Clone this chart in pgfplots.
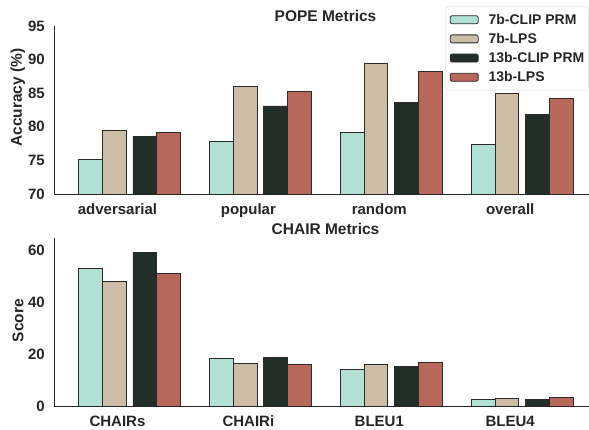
\documentclass[border=0pt]{standalone}
\usepackage{fontspec}
\setmainfont{Liberation Sans}
\usepackage{pgfplots}
\pgfplotsset{compat=1.18}
\definecolor{cA}{HTML}{B3E0D4}
\definecolor{cB}{HTML}{CDBDA6}
\definecolor{cC}{HTML}{222F28}
\definecolor{cD}{HTML}{B8675B}
\definecolor{txt}{HTML}{262626}
\definecolor{edge}{HTML}{2A2A2A}
\pgfplotsset{
  common/.style={
    scale only axis, width=535pt, anchor=south west,
    xmin=-0.577, xmax=3.51,
    axis x line*=bottom, axis y line*=left,
    axis line style={txt, line width=0.9pt, -},
    major tick length=0pt,
    ybar, bar width=0.18,
    xtick={-0.092,0.908,1.908,2.908},
    tick label style={font=\fontsize{15}{18}\selectfont\bfseries, text=txt},
    /pgf/number format/assume math mode=true,
    xticklabel style={anchor=base, yshift=-20.5pt},
    yticklabel style={anchor=east, inner sep=0pt, xshift=-9pt},
    ylabel style={font=\fontsize{15.5}{18}\selectfont\bfseries, text=txt, anchor=center, rotate=0},
    title style={font=\fontsize{15.5}{18}\selectfont\bfseries, text=txt, anchor=base},
    every axis plot/.append style={draw=edge, line width=0.8pt},
    legend image code/.code={\draw[#1] (0pt,-4pt) rectangle (28pt,4pt);},
  }
}
\begin{document}
\begin{tikzpicture}
\useasboundingbox (0,0) rectangle (589pt,430pt);
\begin{axis}[common, at={(54pt,236pt)}, height=168pt,
  ymin=70, ymax=95, ytick={70,75,80,85,90,95},
  xticklabels={adversarial,popular,random,overall},
  ylabel={Accuracy (\%)},
  ylabel style={at={(axis description cs:-0.0673,0.574)}},
  title={POPE Metrics},
  title style={at={(axis description cs:0.5075,1)}, yshift=-2pt},
  legend cell align=left,
  legend style={at={(axis description cs:1,1)}, anchor=north east, yshift=19.3pt, xshift=-0.5pt,
    draw=black!15, rounded corners=2pt, fill=white,
    font=\fontsize{14}{16}\selectfont\bfseries, text=txt,
    inner xsep=4pt, inner ysep=6.3pt, row sep=6.2pt,
    nodes={inner sep=0pt, text height=11pt, text depth=2pt},
    /tikz/every odd column/.append style={column sep=10pt}},
]
\addplot[fill=cA, bar shift=-0.297] coordinates {(0,75.2) (1,77.8) (2,79.1) (3,77.4)};
\addplot[fill=cB, bar shift=-0.117] coordinates {(0,79.5) (1,86.0) (2,89.5) (3,84.9)};
\addplot[fill=cC, bar shift=0.116] coordinates {(0,78.6) (1,83.1) (2,83.6) (3,81.9)};
\addplot[fill=cD, bar shift=0.297] coordinates {(0,79.1) (1,85.2) (2,88.3) (3,84.2)};
\legend{7b-CLIP PRM,7b-LPS,13b-CLIP PRM,13b-LPS}
\end{axis}
\begin{axis}[common, at={(54pt,24pt)}, height=168.2pt,
  ymin=0, ymax=65, ytick={0,20,40,60},
  xticklabels={CHAIRs,CHAIRi,BLEU1,BLEU4},
  ylabel={Score},
  ylabel style={at={(axis description cs:-0.0673,0.508)}},
  title={CHAIR Metrics},
  title style={at={(axis description cs:0.5075,1)}, yshift=-3pt},
]
\addplot[fill=cA, bar shift=-0.297] coordinates {(0,53.2) (1,18.3) (2,14.2) (3,2.4)};
\addplot[fill=cB, bar shift=-0.117] coordinates {(0,48.0) (1,16.5) (2,16.2) (3,2.8)};
\addplot[fill=cC, bar shift=0.116] coordinates {(0,59.2) (1,18.9) (2,15.2) (3,2.6)};
\addplot[fill=cD, bar shift=0.297] coordinates {(0,51.3) (1,16.1) (2,16.9) (3,3.2)};
\end{axis}
\end{tikzpicture}
\end{document}
